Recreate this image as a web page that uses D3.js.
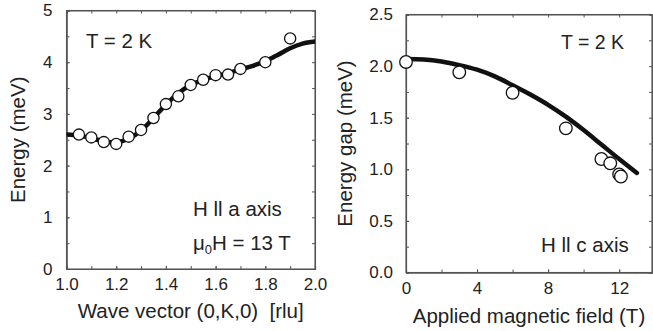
<!DOCTYPE html>
<html><head><meta charset="utf-8">
<script src="https://cdn.jsdelivr.net/npm/d3@7"></script>
<style>
body{margin:0;background:#fff;}
svg text{font-family:"Liberation Sans",Arial,Helvetica,sans-serif;fill:#222;}
</style></head>
<body><svg id="c" width="653" height="331"></svg>
<script>
// Left panel: dispersion at 13 T
const waveK = [1.05,1.10,1.15,1.20,1.25,1.30,1.35,1.40,1.45,1.50,1.55,1.60,1.65,1.70,1.80,1.90];
const energy = [2.60,2.545,2.455,2.42,2.56,2.69,2.92,3.19,3.34,3.56,3.66,3.75,3.76,3.87,4.00,4.46];
const fitK = [1.00,1.05,1.10,1.15,1.20,1.25,1.30,1.35,1.40,1.45,1.50,1.55,1.60,1.65,1.70,1.75,1.80,1.85,1.90,1.95,2.00];
const fitE = [2.60,2.58,2.53,2.47,2.45,2.52,2.68,2.92,3.18,3.40,3.56,3.66,3.73,3.79,3.86,3.93,4.02,4.14,4.27,4.36,4.40];
const xTicksL = [1.0,1.2,1.4,1.6,1.8,2.0];
const yTicksL = [0,1,2,3,4,5];

// Right panel: gap vs field
const field = [0,3,6,9,11,11.5,12.0,12.1];
const gap = [2.04,1.94,1.742,1.397,1.10,1.058,0.95,0.93];
const fitH = [0,1,2,3,4,5,6,7,8,9,10,11,12,13];
const fitGap = [2.07,2.065,2.045,2.01,1.965,1.90,1.815,1.725,1.625,1.51,1.38,1.24,1.10,0.965];
const xTicksR = [0,4,8,12];
const yTicksR = [0.0,0.5,1.0,1.5,2.0,2.5];

const svg = d3.select('#c');
const frameColor = '#555';

function panel(o){
  const g = svg.append('g');
  const [x0,x1] = o.x.range(), [y0,y1] = o.y.range();
  const id = 'clip'+o.name;
  svg.append('defs').append('clipPath').attr('id',id).append('rect')
    .attr('x',x0).attr('y',y1).attr('width',x1-x0).attr('height',y0-y1);
  const tk = 3;
  g.append('g').attr('transform',`translate(0,${y0})`)
    .call(d3.axisBottom(o.x).tickValues(o.xMinor).tickSize(-tk).tickFormat(''));
  g.append('g').attr('transform',`translate(0,${y0})`)
    .call(d3.axisBottom(o.x).tickValues(o.xTicks).tickSize(-tk).tickPadding(o.xPad).tickFormat(o.xFmt));
  g.append('g').attr('transform',`translate(0,${y1})`)
    .call(d3.axisTop(o.x).tickValues(o.xMinor).tickSize(-tk).tickFormat(''));
  g.append('g').attr('transform',`translate(${x0},0)`)
    .call(d3.axisLeft(o.y).tickValues(o.yMinor).tickSize(-tk).tickFormat(''));
  g.append('g').attr('transform',`translate(${x0},0)`)
    .call(d3.axisLeft(o.y).tickValues(o.yTicks).tickSize(-tk).tickPadding(o.yPad).tickFormat(o.yFmt));
  g.append('g').attr('transform',`translate(${x1},0)`)
    .call(d3.axisRight(o.y).tickValues(o.yMinor).tickSize(-tk).tickFormat(''));
  g.selectAll('.domain').attr('stroke',frameColor).attr('stroke-width',1.1);
  g.selectAll('.tick line').attr('stroke',frameColor).attr('stroke-width',1);
  g.selectAll('.tick text').attr('font-size',o.tickFont).style('fill','#222');
  g.append('rect').attr('x',x0).attr('y',y1).attr('width',x1-x0).attr('height',y0-y1)
    .attr('fill','none').attr('stroke',frameColor).attr('stroke-width',1.1);
  const line = d3.line().x(d=>o.x(d[0])).y(d=>o.y(d[1])).curve(d3.curveCatmullRom.alpha(0.5));
  svg.append('path').datum(o.fitX.map((v,i)=>[v,o.fitY[i]]))
    .attr('clip-path',`url(#${id})`)
    .attr('d',line).attr('fill','none').attr('stroke','#111').attr('stroke-width',4.5)
    .attr('stroke-linecap','round');
  svg.append('g').selectAll('circle').data(o.px.map((v,i)=>[v,o.py[i]])).join('circle')
    .attr('cx',d=>o.x(d[0])).attr('cy',d=>o.y(d[1])).attr('r',o.r)
    .attr('fill','#fff').attr('stroke','#111').attr('stroke-width',1.3);
}

const xL = d3.scaleLinear().domain([1,2]).range([66.5,315]);
const yL = d3.scaleLinear().domain([0,5]).range([269,10.5]);
panel({name:'L',x:xL,y:yL,xTicks:xTicksL,xMinor:d3.range(1,2.001,0.1),yTicks:yTicksL,yMinor:d3.range(0,5.001,0.5),
  xFmt:d3.format('.1f'),yFmt:d3.format('d'),xPad:9,yPad:14,tickFont:'17px',
  fitX:fitK,fitY:fitE,px:waveK,py:energy,r:5.6});

const xR = d3.scaleLinear().domain([0,13.85]).range([406,652]);
const yR = d3.scaleLinear().domain([0,2.5]).range([272.5,14.5]);
panel({name:'R',x:xR,y:yR,xTicks:xTicksR,xMinor:d3.range(0,13.9,2),yTicks:yTicksR,yMinor:d3.range(0,2.501,0.25),
  xFmt:d3.format('d'),yFmt:d3.format('.1f'),xPad:9,yPad:13,tickFont:'17px',
  fitX:fitH,fitY:fitGap,px:field,py:gap,r:6.3});

function txt(x,y,s,size,anchor){
  return svg.append('text').attr('x',x).attr('y',y).attr('font-size',size).attr('text-anchor',anchor||'start').style('white-space','pre').text(s);
}
txt(86,47.5,'T = 2 K','20.5px');
txt(561,49,'T = 2 K','19.5px');
txt(193,216,'H ll a axis','20.5px');
const mu = svg.append('text').attr('x',193).attr('y',249.5).attr('font-size','20.5px');
mu.append('tspan').text('μ');
mu.append('tspan').attr('font-size','13px').attr('dy',4).text('0');
mu.append('tspan').attr('dy',-4).text('H = 13 T');
txt(541,251.5,'H ll c axis','20.5px');

txt((66.5+315)/2,318,'Wave vector (0,K,0)  [rlu]','20.5px','middle');
txt(529,323,'Applied magnetic field (T)','20.5px','middle');
svg.append('text').attr('transform',`translate(25,${(269+10.5)/2}) rotate(-90)`).attr('text-anchor','middle')
  .attr('font-size','20.5px').text('Energy (meV)');
svg.append('text').attr('transform',`translate(352,${(272.5+14.5)/2}) rotate(-90)`).attr('text-anchor','middle')
  .attr('font-size','20.5px').text('Energy gap (meV)');
</script></body></html>
